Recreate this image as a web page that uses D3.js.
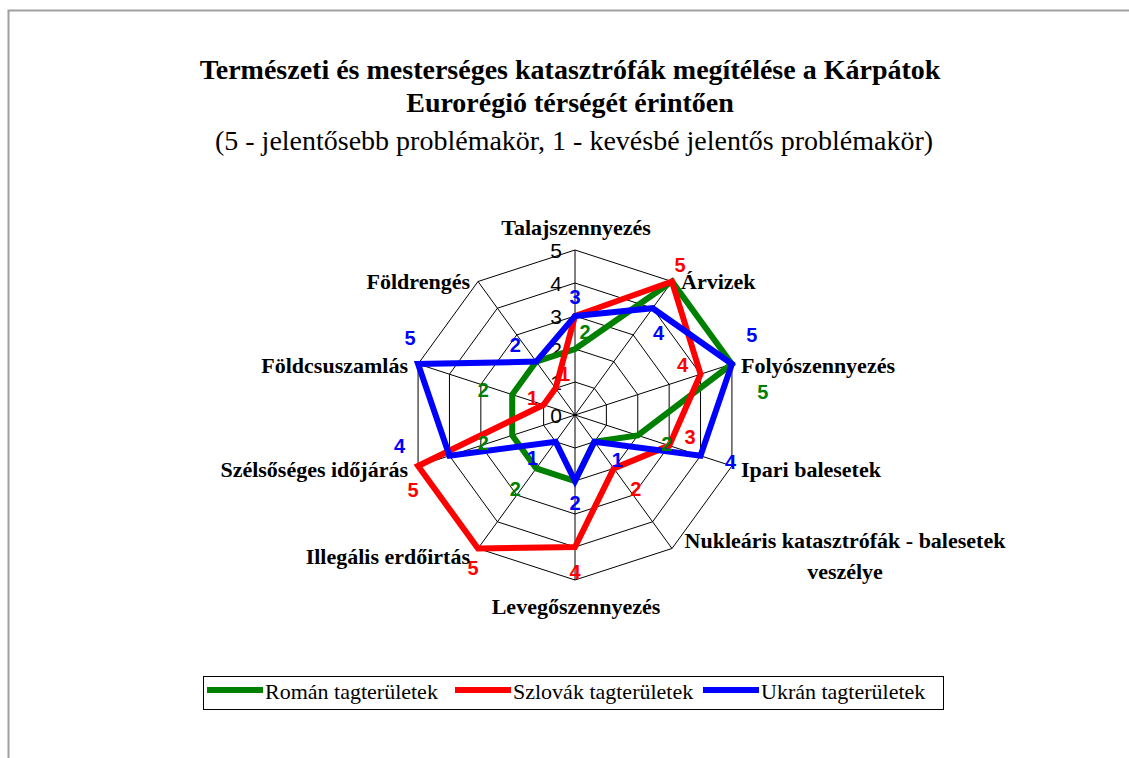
<!DOCTYPE html>
<html><head><meta charset="utf-8">
<script src="https://cdn.jsdelivr.net/npm/d3@7"></script>
<style>body{margin:0;background:#fff}svg{display:block}</style>
</head><body>
<svg id="c" width="1129" height="758"></svg>
<script>
// ---- data ----
const categories = ["Talajszennyezés","Árvizek","Folyószennyezés","Ipari balesetek","Nukleáris katasztrófák - balesetek veszélye","Levegőszennyezés","Illegális erdőirtás","Szélsőséges időjárás","Földcsuszamlás","Földrengés"];
const seriesNames = ["Román tagterületek","Szlovák tagterületek","Ukrán tagterületek"];
const romanValues  = [2,5,5,2,1,2,2,2,2,2];
const szlovakValues = [3,5,4,3,2,4,5,5,1,1];
const ukranValues  = [3,4,5,4,1,2,1,4,5,2];
const tickValues = [0,1,2,3,4,5];
const titleLines = ["Természeti és mesterséges katasztrófák megítélése a Kárpátok","Eurorégió térségét érintően"];
const subtitle = "(5 - jelentősebb problémakör, 1 - kevésbé jelentős problémakör)";

// ---- layout / style ----
const colors = ["#008000","#ff0000","#0000ff"];
const cx = 575, cy = 415, R = 165;
// label offsets (px) per series per axis; null = label hidden
const labelOffsets = [
  [[10,-17],null,[31,28],[29,8],null,null,[-21,20],[-29,7],[-29,-5],null],
  [null,[8,-17],[-18,-9],[21,-9],[22,20],[0,25],[-5,19],[-5,24],[-11,-7],[9,-15]],
  [[0,-19],[6,25],[20,-29],[30,6],[23,18],[0,22],[-23,16],[-50,-10],[-8,-26],[-21,-17]]
];
const serif = "'Liberation Serif','Times New Roman',serif";
const sans = "'Liberation Sans',Arial,sans-serif";

const svg = d3.select("#c");
svg.append("rect").attr("x",8.5).attr("y",10.5).attr("width",1300).attr("height",900)
  .attr("fill","#fff").attr("stroke","#a0a0a0").attr("stroke-width",2);

const r = d3.scaleLinear().domain([0,5]).range([0,R]);
const ang = d3.scaleLinear().domain([0,categories.length]).range([0,2*Math.PI]);
const pt = (i,v)=>[cx+r(v)*Math.sin(ang(i)), cy-r(v)*Math.cos(ang(i))];

// title
const t = svg.append("g").attr("font-family",serif).attr("fill","#000").attr("text-anchor","middle");
t.append("text").attr("x",570).attr("y",79).attr("font-size",28).attr("font-weight","bold").text(titleLines[0]);
t.append("text").attr("x",570).attr("y",112).attr("font-size",28).attr("font-weight","bold").text(titleLines[1]);
t.append("text").attr("x",574).attr("y",150).attr("font-size",28).text(subtitle);

// grid
const g = svg.append("g");
const line = d3.line();
tickValues.slice(1).forEach(v=>{
  g.append("path").attr("d", line(d3.range(categories.length).map(i=>pt(i,v)))+"Z")
   .attr("fill","none").attr("stroke","#000").attr("stroke-width",1);
});
categories.forEach((c,i)=>{
  g.append("path").attr("d", line([pt(i,0),pt(i,5)])).attr("stroke","#000").attr("stroke-width",1);
});
// tick labels
g.selectAll(".tick").data(tickValues).join("text")
  .attr("x",cx-13).attr("y",v=>cy-r(v)).attr("dy","0.36em")
  .attr("text-anchor","end").attr("font-family",sans)
  .attr("font-size",21).text(v=>v);

// series
const allValues = [romanValues, szlovakValues, ukranValues];
allValues.forEach((vals,s)=>{
  svg.append("path").attr("d", line(vals.map((v,i)=>pt(i,v)))+"Z")
    .attr("fill","none").attr("stroke",colors[s]).attr("stroke-width",6).attr("stroke-linejoin","miter");
});
allValues.forEach((vals,s)=>{
  vals.forEach((v,i)=>{
    const o = labelOffsets[s][i]; if(!o) return;
    const p = pt(i,v);
    svg.append("text").attr("x",p[0]+o[0]).attr("y",p[1]+o[1]).attr("dy","0.36em")
      .attr("text-anchor","middle").attr("font-family",sans)
      .attr("font-weight","bold").attr("font-size",20).attr("fill",colors[s]).text(v);
  });
});

// axis labels
const axisLab = [
  {x:576,y:227,a:"middle"},{x:681,y:281,a:"start"},{x:741,y:365,a:"start"},{x:741,y:469,a:"start"},
  {x:845,y:540,a:"middle"},{x:576,y:606,a:"middle"},{x:470,y:556,a:"end"},{x:408,y:469,a:"end"},
  {x:408,y:365,a:"end"},{x:470,y:281,a:"end"}
];
categories.forEach((c,i)=>{
  const L = axisLab[i];
  const txt = svg.append("text").attr("x",L.x).attr("y",L.y).attr("text-anchor",L.a)
    .attr("font-family",serif).attr("font-weight","bold").attr("font-size",22);
  if(i===4){
    txt.append("tspan").attr("x",L.x).attr("dy","0.35em").text("Nukleáris katasztrófák - balesetek");
    txt.append("tspan").attr("x",L.x).attr("y",L.y+31).attr("dy","0.35em").text("veszélye");
  } else txt.attr("dy","0.35em").text(c);
});

// legend
const lg = svg.append("g");
lg.append("rect").attr("x",203.5).attr("y",676.5).attr("width",740).attr("height",33).attr("fill","#fff").attr("stroke","#000");
const lx = [207,455,703];
seriesNames.forEach((n,s)=>{
  lg.append("line").attr("x1",lx[s]).attr("x2",lx[s]+56).attr("y1",690).attr("y2",690).attr("stroke",colors[s]).attr("stroke-width",6);
  lg.append("text").attr("x",lx[s]+58).attr("y",691).attr("dy","0.35em")
    .attr("font-family",serif).attr("font-size",22).text(n);
});
</script>
</body></html>
